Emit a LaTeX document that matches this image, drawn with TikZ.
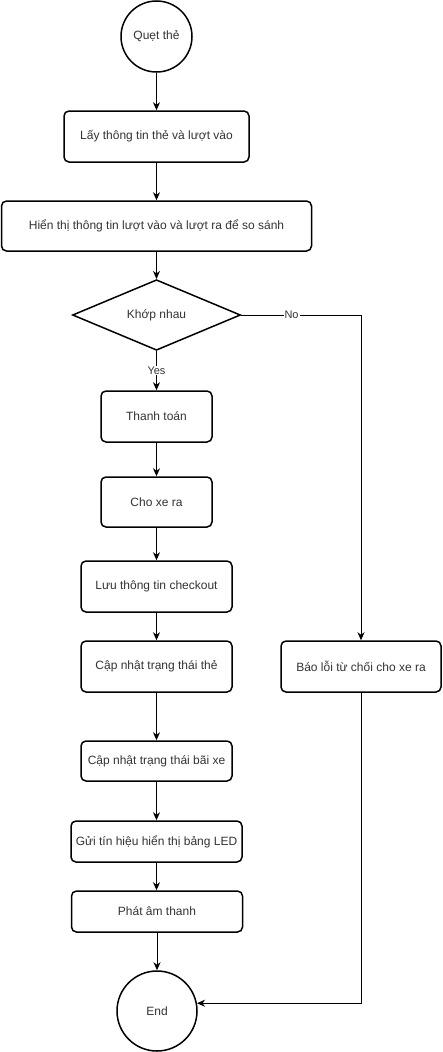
\documentclass[tikz,border=0pt]{standalone}
\usepackage{fontspec}
\setmainfont{Liberation Sans}
\usetikzlibrary{shapes.geometric,arrows.meta}
\definecolor{txt}{HTML}{333333}
\tikzset{
  box/.style={draw, line width=1.5pt, rounded corners=5pt, inner sep=0pt, align=center, text=txt, font=\fontsize{12}{14}\selectfont},
  term/.style={draw, circle, line width=1.5pt, inner sep=0pt, text=txt, font=\fontsize{12}{14}\selectfont},
  decis/.style={draw, diamond, line width=1.5pt, inner sep=0pt, text=txt, font=\fontsize{12}{14}\selectfont},
  conn/.style={draw, line width=1pt, -{Stealth[length=8pt,width=7pt,inset=2.5pt]}},
  lbl/.style={fill=white, inner sep=1pt, text=txt, font=\fontsize{11}{13}\selectfont}
}
\begin{document}
\begin{tikzpicture}[x=1pt,y=-1pt]
\useasboundingbox[fill=white] (0,0) rectangle (442,1052);
\node[term, minimum size=71pt] (start) at (156.5,36.5) {Quẹt thẻ};
\node[box, minimum width=185pt, minimum height=51pt] (b1) at (156.5,136.5) {Lấy thông tin thẻ và lượt vào};
\node[box, minimum width=310pt, minimum height=50pt] (b2) at (156.5,226) {Hiển thị thông tin lượt vào và lượt ra để so sánh};
\node[decis, minimum width=168pt, minimum height=70pt] (dia) at (156.5,315) {Khớp nhau};
\node[box, minimum width=111pt, minimum height=51pt] (pay) at (156.5,416.5) {Thanh toán};
\node[box, minimum width=111pt, minimum height=50pt] (out) at (156.5,502) {Cho xe ra};
\node[box, minimum width=151pt, minimum height=51pt] (save) at (156.5,586.5) {Lưu thông tin checkout};
\node[box, minimum width=151pt, minimum height=51pt] (card) at (156.5,666.5) {Cập nhật trạng thái thẻ};
\node[box, minimum width=160pt, minimum height=51pt] (err) at (361,666.5) {Báo lỗi từ chối cho xe ra};
\node[box, minimum width=151pt, minimum height=40pt] (lot) at (156.5,761) {Cập nhật trạng thái bãi xe};
\node[box, minimum width=171pt, minimum height=41pt] (led) at (156.5,841.5) {Gửi tín hiệu hiển thị bảng LED};
\node[box, minimum width=171pt, minimum height=41pt] (snd) at (157,911.5) {Phát âm thanh};
\node[term, minimum size=80pt] (end) at (157,1011) {End};

\draw[conn] (start) -- (b1);
\draw[conn] (b1) -- (b2);
\draw[conn] (b2) -- (dia);
\draw[conn] (dia) -- node[lbl, pos=0.5] {Yes} (pay);
\draw[conn] (dia.east) -| node[lbl, pos=0.21] {No} (err.north);
\draw[conn] (pay) -- (out);
\draw[conn] (out) -- (save);
\draw[conn] (save) -- (card);
\draw[conn] (card) -- (lot);
\draw[conn] (lot) -- (led);
\draw[conn] (led.south) -- (led.south |- snd.north);
\draw[conn] (snd) -- (end);
\draw[conn] (err.south) |- (end.11.5);
\end{tikzpicture}
\end{document}
